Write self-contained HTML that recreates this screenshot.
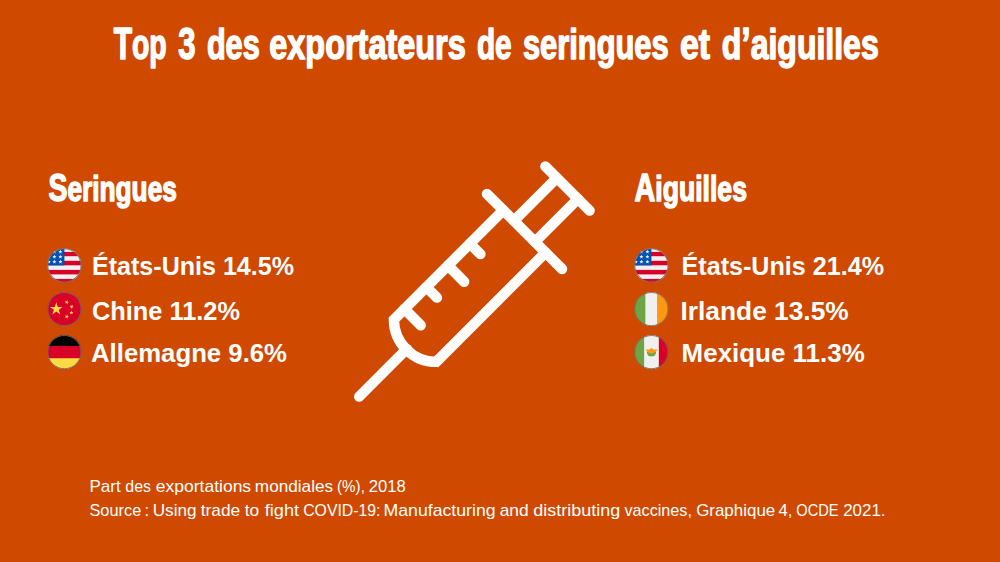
<!DOCTYPE html>
<html><head><meta charset="utf-8">
<style>
html,body{margin:0;padding:0;background:#CF4A00;}
body{width:1000px;height:562px;overflow:hidden;position:relative;}
svg{position:absolute;left:0;top:0;display:block;}
text{font-family:"Liberation Sans",sans-serif;fill:#fff;}
.t{font-weight:bold;}
.h{stroke:#fff;stroke-width:1.5px;stroke-linejoin:round;}
.f{font-size:16.6px;}
</style></head>
<body>
<svg width="1000" height="562" viewBox="0 0 1000 562">
<rect width="1000" height="562" fill="#CF4A00"/>
<!-- title -->
<g class="t h">
<text x="113.68" y="59.40" textLength="53.02" lengthAdjust="spacingAndGlyphs"><tspan font-size="44.3">T</tspan><tspan font-size="41.8">op</tspan></text>
<text x="178.28" y="59.40" textLength="17.31" lengthAdjust="spacingAndGlyphs"><tspan font-size="44.3">3</tspan></text>
<text x="206.89" y="59.40" textLength="52.80" lengthAdjust="spacingAndGlyphs"><tspan font-size="41.8">des</tspan></text>
<text x="269.31" y="59.40" textLength="196.47" lengthAdjust="spacingAndGlyphs"><tspan font-size="41.8">exportateurs</tspan></text>
<text x="476.92" y="59.40" textLength="34.73" lengthAdjust="spacingAndGlyphs"><tspan font-size="41.8">de</tspan></text>
<text x="522.96" y="59.40" textLength="145.70" lengthAdjust="spacingAndGlyphs"><tspan font-size="41.8">seringues</tspan></text>
<text x="679.89" y="59.40" textLength="30.04" lengthAdjust="spacingAndGlyphs"><tspan font-size="41.8">et</tspan></text>
<text x="721.73" y="59.40" textLength="156.95" lengthAdjust="spacingAndGlyphs"><tspan font-size="41.8">d</tspan><tspan font-size="44.3">’</tspan><tspan font-size="41.8">aiguilles</tspan></text>
<text x="48.41" y="201.40" textLength="128.51" lengthAdjust="spacingAndGlyphs"><tspan font-size="38.5">S</tspan><tspan font-size="35.6">eringues</tspan></text>
<text x="634.59" y="201.40" textLength="112.33" lengthAdjust="spacingAndGlyphs"><tspan font-size="38.5">A</tspan><tspan font-size="35.6">iguilles</tspan></text>
</g>

<!-- list -->
<g class="t" font-size="26.4">
<text x="92" y="275.2" textLength="202" lengthAdjust="spacingAndGlyphs">États-Unis 14.5%</text>
<text x="92" y="319.6" textLength="148" lengthAdjust="spacingAndGlyphs">Chine 11.2%</text>
<text x="91" y="362.2" textLength="196" lengthAdjust="spacingAndGlyphs">Allemagne 9.6%</text>
<text x="681.6" y="275.2" textLength="202.4" lengthAdjust="spacingAndGlyphs">États-Unis 21.4%</text>
<text x="680.5" y="319.6" textLength="168.2" lengthAdjust="spacingAndGlyphs">Irlande 13.5%</text>
<text x="681.6" y="362.2" textLength="183.1" lengthAdjust="spacingAndGlyphs">Mexique 11.3%</text>
</g>

<!-- footer -->
<g class="f">
<text x="89.40" y="492" textLength="31.22" lengthAdjust="spacingAndGlyphs">Part</text>
<text x="125.33" y="492" textLength="25.75" lengthAdjust="spacingAndGlyphs">des</text>
<text x="155.76" y="492" textLength="95.38" lengthAdjust="spacingAndGlyphs">exportations</text>
<text x="254.86" y="492" textLength="78.26" lengthAdjust="spacingAndGlyphs">mondiales</text>
<text x="337.06" y="492" textLength="27.80" lengthAdjust="spacingAndGlyphs">(%),</text>
<text x="368.66" y="492" textLength="37.06" lengthAdjust="spacingAndGlyphs">2018</text>
<text x="89.46" y="516" textLength="51.77" lengthAdjust="spacingAndGlyphs">Source</text>
<text x="152.67" y="516" textLength="43.93" lengthAdjust="spacingAndGlyphs">Using</text>
<text x="200.74" y="516" textLength="39.53" lengthAdjust="spacingAndGlyphs">trade</text>
<text x="244.74" y="516" textLength="14.49" lengthAdjust="spacingAndGlyphs">to</text>
<text x="264.74" y="516" textLength="34.39" lengthAdjust="spacingAndGlyphs">fight</text>
<text x="303.20" y="516" textLength="77.24" lengthAdjust="spacingAndGlyphs">COVID-19:</text>
<text x="383.55" y="516" textLength="111.99" lengthAdjust="spacingAndGlyphs">Manufacturing</text>
<text x="499.66" y="516" textLength="28.96" lengthAdjust="spacingAndGlyphs">and</text>
<text x="533.25" y="516" textLength="86.91" lengthAdjust="spacingAndGlyphs">distributing</text>
<text x="624.44" y="516" textLength="67.51" lengthAdjust="spacingAndGlyphs">vaccines,</text>
<text x="696.15" y="516" textLength="79.10" lengthAdjust="spacingAndGlyphs">Graphique</text>
<text x="778.62" y="516" textLength="13.88" lengthAdjust="spacingAndGlyphs">4,</text>
<text x="796.31" y="516" textLength="42.32" lengthAdjust="spacingAndGlyphs">OCDE</text>
<text x="843.15" y="516" textLength="42.40" lengthAdjust="spacingAndGlyphs">2021.</text>
<text x="144.6" y="516">:</text>
</g>

<!-- syringe -->
<g transform="translate(377.9 377.9) rotate(45)" fill="none" stroke="#fff" stroke-width="10.4" stroke-linecap="round" stroke-linejoin="round">
  <line x1="0" y1="26.5" x2="0" y2="-41"/>
  <path d="M -29.9 -207.2 L -29.9 -52.5 A 42.5 42.5 0 0 0 29.9 -52.5 L 29.9 -207.2" stroke-linejoin="miter"/>
  <line x1="-53" y1="-207.2" x2="53.2" y2="-207.2"/>
  <line x1="-14.9" y1="-207.2" x2="-14.9" y2="-268"/>
  <line x1="14.9" y1="-207.2" x2="14.9" y2="-268"/>
  <line x1="-31.2" y1="-268" x2="31.4" y2="-268"/>
  <line x1="-29.9" y1="-67.5" x2="-7" y2="-67.5"/>
  <line x1="-29.9" y1="-98.5" x2="-15" y2="-98.5"/>
  <line x1="-29.9" y1="-129" x2="-7" y2="-129"/>
  <line x1="-29.9" y1="-160" x2="-15" y2="-160"/>
</g>

<!-- flags -->
<defs>
  <clipPath id="c"><circle cx="0" cy="0" r="17"/></clipPath>
  <g id="us">
    <g clip-path="url(#c)">
      <rect x="-17" y="-17" width="34" height="34" fill="#f0f0f0"/>
      <rect x="-17" y="-13.5" width="34" height="4.3" fill="#d80027"/>
      <rect x="-17" y="-4.6" width="34" height="4.5" fill="#d80027"/>
      <rect x="-17" y="4.5" width="34" height="4.5" fill="#d80027"/>
      <rect x="-17" y="13.5" width="34" height="4.5" fill="#d80027"/>
      <rect x="-17" y="-17" width="17" height="17" fill="#0052b4"/>
      <g fill="#f0f0f0">
      <polygon points="-15.60,-15.80 -15.11,-14.28 -13.51,-14.28 -14.80,-13.34 -14.31,-11.82 -15.60,-12.76 -16.89,-11.82 -16.40,-13.34 -17.69,-14.28 -16.09,-14.28"/>
      <polygon points="-10.00,-15.80 -9.51,-14.28 -7.91,-14.28 -9.20,-13.34 -8.71,-11.82 -10.00,-12.76 -11.29,-11.82 -10.80,-13.34 -12.09,-14.28 -10.49,-14.28"/>
      <polygon points="-4.00,-15.80 -3.51,-14.28 -1.91,-14.28 -3.20,-13.34 -2.71,-11.82 -4.00,-12.76 -5.29,-11.82 -4.80,-13.34 -6.09,-14.28 -4.49,-14.28"/>
      <polygon points="-15.60,-10.80 -15.11,-9.28 -13.51,-9.28 -14.80,-8.34 -14.31,-6.82 -15.60,-7.76 -16.89,-6.82 -16.40,-8.34 -17.69,-9.28 -16.09,-9.28"/>
      <polygon points="-10.00,-10.80 -9.51,-9.28 -7.91,-9.28 -9.20,-8.34 -8.71,-6.82 -10.00,-7.76 -11.29,-6.82 -10.80,-8.34 -12.09,-9.28 -10.49,-9.28"/>
      <polygon points="-4.00,-10.80 -3.51,-9.28 -1.91,-9.28 -3.20,-8.34 -2.71,-6.82 -4.00,-7.76 -5.29,-6.82 -4.80,-8.34 -6.09,-9.28 -4.49,-9.28"/>
      <polygon points="-15.60,-5.80 -15.11,-4.28 -13.51,-4.28 -14.80,-3.34 -14.31,-1.82 -15.60,-2.76 -16.89,-1.82 -16.40,-3.34 -17.69,-4.28 -16.09,-4.28"/>
      <polygon points="-10.00,-5.80 -9.51,-4.28 -7.91,-4.28 -9.20,-3.34 -8.71,-1.82 -10.00,-2.76 -11.29,-1.82 -10.80,-3.34 -12.09,-4.28 -10.49,-4.28"/>
      <polygon points="-4.00,-5.80 -3.51,-4.28 -1.91,-4.28 -3.20,-3.34 -2.71,-1.82 -4.00,-2.76 -5.29,-1.82 -4.80,-3.34 -6.09,-4.28 -4.49,-4.28"/>
      </g>
    </g>
    <circle r="16.6" fill="none" stroke="#6e6e6e" stroke-width="0.9"/>
  </g>
</defs>
<use href="#us" transform="translate(64.4 265.4)"/>
<use href="#us" transform="translate(651.4 265.4)"/>
<g transform="translate(64.4 309.1)">
  <circle r="17" fill="#d80027"/>
  <g fill="#ffda44">
  <polygon points="-8.10,-6.80 -6.60,-2.17 -1.73,-2.17 -5.67,0.69 -4.16,5.32 -8.10,2.46 -12.04,5.32 -10.53,0.69 -14.47,-2.17 -9.60,-2.17"/>
  <polygon points="3.19,-9.06 3.13,-7.39 4.70,-6.82 3.09,-6.36 3.03,-4.69 2.10,-6.07 0.49,-5.61 1.52,-6.93 0.59,-8.32 2.16,-7.74"/>
  <polygon points="8.83,-4.03 8.07,-2.54 9.25,-1.36 7.60,-1.62 6.84,-0.13 6.58,-1.78 4.93,-2.04 6.42,-2.80 6.16,-4.45 7.34,-3.27"/>
  <polygon points="7.00,1.30 7.52,2.89 9.19,2.89 7.84,3.87 8.35,5.46 7.00,4.48 5.65,5.46 6.16,3.87 4.81,2.89 6.48,2.89"/>
  <polygon points="3.19,5.44 3.13,7.11 4.70,7.68 3.09,8.14 3.03,9.81 2.10,8.43 0.49,8.89 1.52,7.57 0.59,6.18 2.16,6.76"/>
  </g>
  <circle r="16.6" fill="none" stroke="#6e6e6e" stroke-width="0.9"/>
</g>
<g transform="translate(64.4 352.1)">
  <g clip-path="url(#c)">
    <rect x="-17" y="-17" width="34" height="11" fill="#000"/>
    <rect x="-17" y="-6.1" width="34" height="12.3" fill="#d80027"/>
    <rect x="-17" y="6.2" width="34" height="11" fill="#ffda44"/>
  </g>
  <circle r="16.6" fill="none" stroke="#6e6e6e" stroke-width="0.9"/>
</g>
<g transform="translate(651.4 309.1)">
  <g clip-path="url(#c)">
    <rect x="-17" y="-17" width="11" height="34" fill="#6da544"/>
    <rect x="-6.1" y="-17" width="12.2" height="34" fill="#f0f0f0"/>
    <rect x="6.1" y="-17" width="11" height="34" fill="#ff9811"/>
  </g>
  <circle r="16.6" fill="none" stroke="#6e6e6e" stroke-width="0.9"/>
</g>
<g transform="translate(651.4 352.1)">
  <g clip-path="url(#c)">
    <rect x="-17" y="-17" width="10" height="34" fill="#6da544"/>
    <rect x="-7.3" y="-17" width="14.8" height="34" fill="#f0f0f0"/>
    <rect x="7.5" y="-17" width="10" height="34" fill="#d80027"/>
  </g>
  <path d="M -4.6 -0.2 A 4.7 4.7 0 0 0 4.8 -0.2 Z" fill="#6da544"/>
  <path d="M -5.8 -2.7 L -2 -2.7 L 0.1 -4.3 L 2.2 -2.7 L 6.1 -2.7 L 4.4 -0.3 Q 0.2 3 -4.2 -0.3 Z" fill="#ff9811"/>
  <circle r="16.6" fill="none" stroke="#6e6e6e" stroke-width="0.9"/>
</g>
</svg>
</body></html>
